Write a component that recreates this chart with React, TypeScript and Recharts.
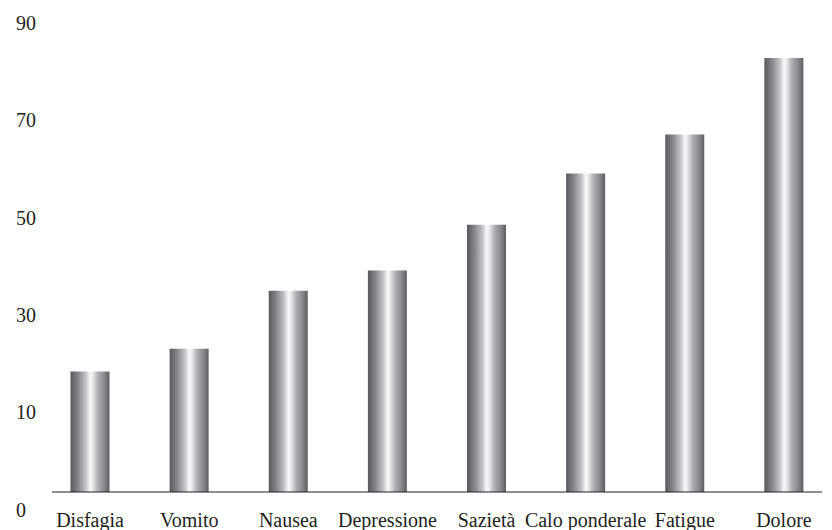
import { Bar, BarChart, XAxis, YAxis } from "recharts";

const categories = [
  "Disfagia",
  "Vomito",
  "Nausea",
  "Depressione",
  "Sazietà",
  "Calo ponderale",
  "Fatigue",
  "Dolore",
];
const values = [23.1, 27.5, 38.6, 42.5, 51.3, 61.1, 68.6, 83.3];
const yTickLabels = ["0", "10", "30", "50", "70", "90"];

const data = categories.map((name, i) => ({ name, value: values[i] }));
// the y labels sit in evenly spaced slots rather than on the value scale
const labelSlots = yTickLabels.map((_, i) => i);

const FONT = "'Liberation Serif', 'Times New Roman', serif";
const INK = "#231f20";

function XLabel({ x, y, payload }: any) {
  return (
    <text x={x} y={y} dy="0.71em" textAnchor="middle" style={{ fontFamily: FONT }} fontSize={20} fill={INK}>
      {payload.value}
    </text>
  );
}

function YLabel({ y, payload }: any) {
  return (
    <text x={16} y={y} dy="0.35em" textAnchor="start" style={{ fontFamily: FONT }} fontSize={20} fill={INK}>
      {yTickLabels[payload.value]}
    </text>
  );
}

export default function App() {
  return (
    <BarChart
      width={832}
      height={530}
      data={data}
      margin={{ top: 23, right: 10, bottom: 0, left: 0 }}
      style={{ marginLeft: -8, marginTop: -8, fontFamily: FONT }}
    >
      <defs>
        <linearGradient id="steel" x1="0" y1="0" x2="1" y2="0">
          <stop offset="0%" stopColor="#58585c" />
          <stop offset="20%" stopColor="#88888c" />
          <stop offset="40%" stopColor="#c6c6ca" />
          <stop offset="50%" stopColor="#f8f8f8" />
          <stop offset="56%" stopColor="#eeeeee" />
          <stop offset="70%" stopColor="#b0b0b4" />
          <stop offset="86%" stopColor="#8a8a8e" />
          <stop offset="100%" stopColor="#5e5e62" />
        </linearGradient>
      </defs>
      <XAxis
        dataKey="name"
        height={38}
        padding={{ left: -11.5, right: -11.5 }}
        tickLine={false}
        tickMargin={15}
        interval={0}
        axisLine={{ stroke: INK, strokeWidth: 1.2 }}
        tick={<XLabel />}
      />
      <YAxis yAxisId="value" hide domain={[0, 90]} />
      <YAxis
        yAxisId="labels"
        width={52}
        type="number"
        domain={[0.18, 5]}
        allowDataOverflow
        ticks={labelSlots}
        interval={0}
        axisLine={false}
        tickLine={false}
        tick={<YLabel />}
      />
      <Bar
        yAxisId="value"
        dataKey="value"
        barSize={39}
        fill="url(#steel)"
        isAnimationActive={false}
      />
    </BarChart>
  );
}
